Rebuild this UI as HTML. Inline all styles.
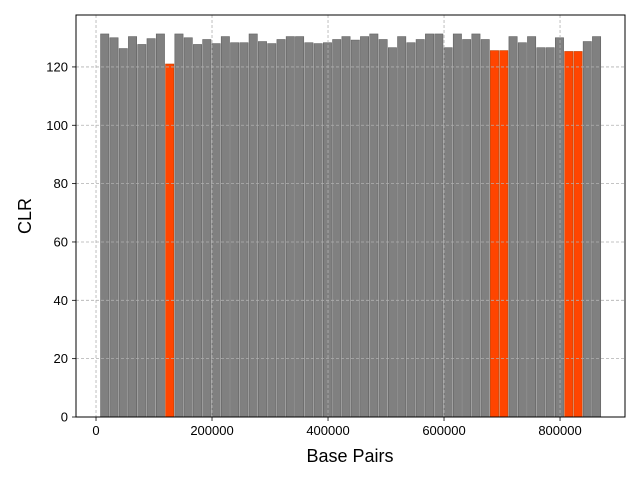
<!DOCTYPE html>
<html><head><meta charset="utf-8"><style>
body{margin:0;background:#fff;}
svg{display:block;font-family:"Liberation Sans","DejaVu Sans",sans-serif;}
</style></head><body>
<svg id="chart" width="640" height="480" xmlns="http://www.w3.org/2000/svg">
<rect width="640" height="480" fill="#fff"/>
<g id="bars"></g><g id="grid"></g><g id="axes"></g>
<text x="350" y="462" font-size="18" text-anchor="middle">Base Pairs</text>
<text x="31" y="216" font-size="18" text-anchor="middle" transform="rotate(-90 31 216)">CLR</text>
</svg>
<script>
const binStart = 7000;
const binWidth = 16000;
const clrValues = [131.3,130,126.3,130.4,127.7,129.7,131.3,121,131.3,130,127.7,129.4,128,130.4,128.3,128.3,131.3,128.7,128,129.4,130.4,130.4,128.3,128,128.3,129.4,130.4,129.2,130.4,131.3,129.4,126.6,130.4,128.3,129.4,131.3,131.3,126.6,131.3,129.4,131.3,129.4,125.6,125.6,130.4,128.3,130.4,126.6,126.6,130,125.3,125.3,128.7,130.4];
const highlighted = [7,42,43,50,51];
const xTicks = [0,200000,400000,600000,800000];
const yTicks = [0,20,40,60,80,100,120];

const L=76,R=625,T=15,B=417;
const xMin=-34500,xMax=912000,yMin=0,yMax=137.8;
const X=v=>L+(v-xMin)/(xMax-xMin)*(R-L);
const Y=v=>B-(v-yMin)/(yMax-yMin)*(B-T);
const NS="http://www.w3.org/2000/svg";
function mk(tag,attrs,parent){const e=document.createElementNS(NS,tag);for(const k in attrs)e.setAttribute(k,attrs[k]);parent.appendChild(e);return e;}
const grid=document.getElementById('grid'),bars=document.getElementById('bars'),axes=document.getElementById('axes');
xTicks.forEach(t=>{
  const g=mk('line',{x1:X(t),x2:X(t),y1:T,y2:B,stroke:'#b0b0b0','stroke-width':0.8,'stroke-dasharray':'3,2'},grid);
  
  
  const tk=mk('line',{x1:X(t),x2:X(t),y1:B,y2:B+4,stroke:'#000','stroke-width':0.8},axes);
  
  
  const lb=mk('text',{x:X(t),y:B+18,'font-size':13,'text-anchor':'middle'},axes);
  lb.textContent=t;
  
  
});
yTicks.forEach(t=>{
  const g=mk('line',{x1:L,x2:R,y1:Y(t),y2:Y(t),stroke:'#b0b0b0','stroke-width':0.8,'stroke-dasharray':'3,2'},grid);
  
  
  const tk=mk('line',{x1:L-4,x2:L,y1:Y(t),y2:Y(t),stroke:'#000','stroke-width':0.8},axes);
  
  
  const lb=mk('text',{x:L-8,y:Y(t)+4.5,'font-size':13,'text-anchor':'end'},axes);
  lb.textContent=t;
  
  
});
clrValues.forEach((v,i)=>{
  const s=binStart+i*binWidth;
  const hl=highlighted.includes(i);
  const x0=X(s),w=X(s+binWidth)-X(s);
  const r=mk('rect',{x:x0+0.5,y:Y(v),width:w-1,height:Y(0)-Y(v),fill:hl?'#ff4500':'#808080',stroke:hl?'#c04000':'#606060','stroke-width':0.6},bars);
  
  
});
const fr=mk('rect',{x:L,y:T,width:R-L,height:B-T,fill:'none',stroke:'#000','stroke-width':1},axes);


</script>
</body></html>
